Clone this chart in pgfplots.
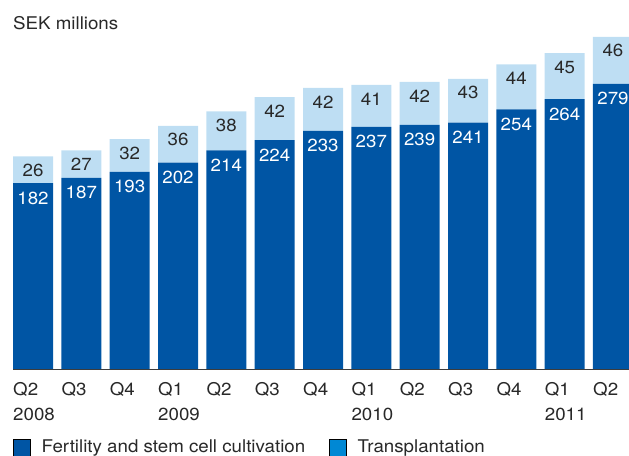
\documentclass[border=0pt]{standalone}
\usepackage{pgfplots}
\pgfplotsset{compat=1.18}
\usepackage{pgfplotstable}
\usepackage{fontspec}
\setmainfont{TeX Gyre Heros}[FakeStretch=1.07]
\definecolor{darkblue}{RGB}{0,85,164}
\definecolor{lightblue}{RGB}{190,222,243}
\definecolor{midblue}{RGB}{0,136,212}
\definecolor{txt}{RGB}{40,40,40}
\definecolor{axisgray}{RGB}{60,60,60}
\newcommand\fs{\fontsize{17.5bp}{25bp}\selectfont}

\pgfplotstableread{
x fert transp
0 182 26
1 187 27
2 193 32
3 202 36
4 214 38
5 224 42
6 233 42
7 237 41
8 239 42
9 241 43
10 254 44
11 264 45
12 279 46
}\datatable

\pgfplotsset{commonaxis/.style={
  at={(13bp,87bp)}, anchor=south west,
  scale only axis, width=620bp, height=350bp,
  xmin=-0.414, xmax=12.414, ymin=0, ymax=342.5, clip=false}}

\begin{document}
\begin{tikzpicture}
\begin{axis}[
  commonaxis,
  ybar stacked, bar width=40bp,
  axis x line*=bottom, axis y line=none,
  x axis line style={draw=axisgray, line width=1bp, -},
  axis on top,
  xtick={0,...,12},
  xticklabels={{Q2\\2008},Q3,Q4,{Q1\\2009},Q2,Q3,Q4,{Q1\\2010},Q2,Q3,Q4,{Q1\\2011},Q2},
  major tick length=0pt,
  xticklabel style={anchor=north west, inner sep=0pt, xshift=-20bp, yshift=-13bp, align=left, font=\fs, text=txt},
  legend columns=2,
  legend image code/.code={\fill[#1] (0bp,-8.5bp) rectangle (17bp,8.5bp);},
  legend style={at={(axis description cs:0,-0.197)}, anchor=north west, draw=none, fill=none,
    inner sep=0pt, font=\fs, text=txt, legend cell align=left,
    /tikz/every odd column/.append style={column sep=9bp},
    /tikz/every even column/.append style={column sep=22bp}},
]
\addplot[fill=darkblue, draw=none, forget plot] table[x=x, y=fert] {\datatable};
\addplot[fill=lightblue, draw=none, forget plot] table[x=x, y=transp] {\datatable};
\addlegendimage{fill=darkblue}
\addlegendentry{Fertility and stem cell cultivation}
\addlegendimage{fill=midblue}
\addlegendentry{Transplantation}
\end{axis}
\begin{axis}[commonaxis, hide axis]
\addplot[draw=none, mark=none, nodes near coords, point meta=explicit symbolic,
  every node near coord/.append style={anchor=center, inner sep=0pt, yshift=-15bp, font=\fs, text=white}]
  table[x=x, y=fert, meta=fert] {\datatable};
\addplot[draw=none, mark=none, nodes near coords, point meta=explicit symbolic,
  every node near coord/.append style={anchor=center, inner sep=0pt, yshift=-14bp, font=\fs, text=txt}]
  table[x=x, y expr=\thisrow{fert}+\thisrow{transp}, meta=transp] {\datatable};
\end{axis}
\node[anchor=base west, inner sep=0pt, font=\fs, text=txt] at (13bp,426bp) {SEK millions};
\pgfresetboundingbox
\path[use as bounding box] (0,0) rectangle (629bp,456bp);
\end{tikzpicture}
\end{document}
